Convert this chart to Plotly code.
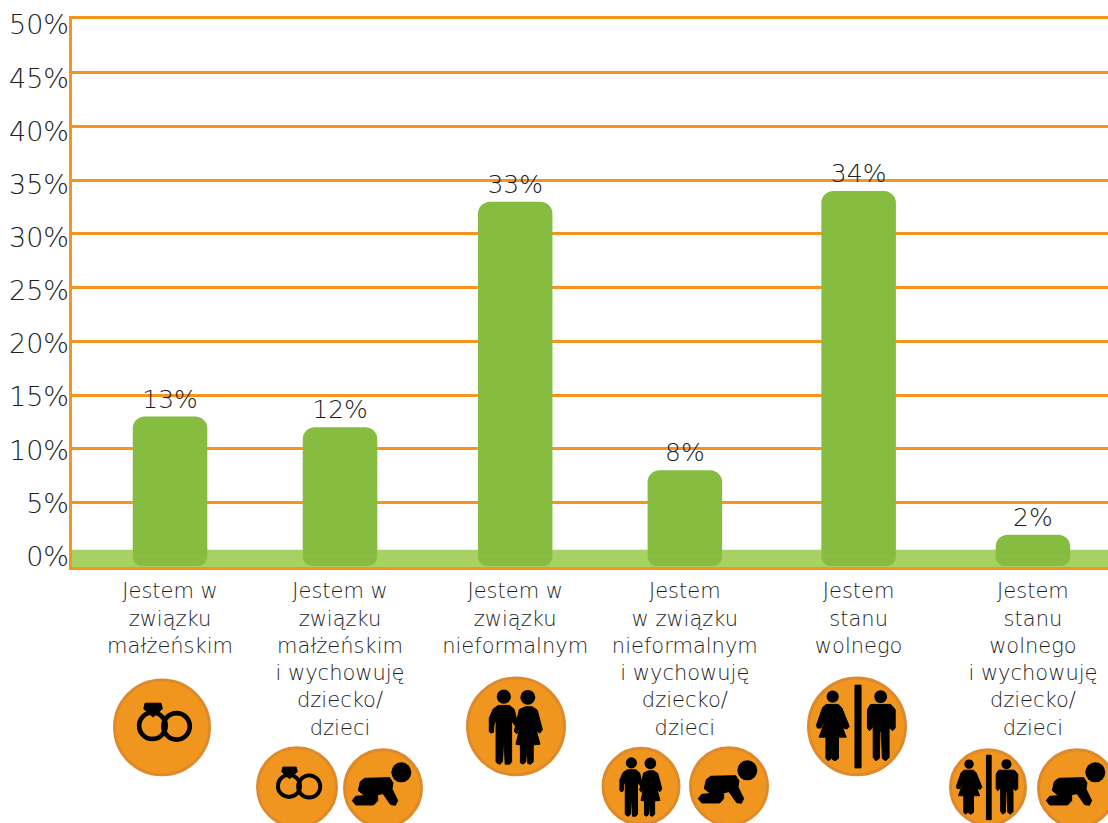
import plotly.graph_objects as go

# Survey results: share of respondents per family situation
categories = [
    "Jestem w<br>związku<br>małżeńskim",
    "Jestem w<br>związku<br>małżeńskim<br>i wychowuję<br>dziecko/<br>dzieci",
    "Jestem w<br>związku<br>nieformalnym",
    "Jestem<br>w związku<br>nieformalnym<br>i wychowuję<br>dziecko/<br>dzieci",
    "Jestem<br>stanu<br>wolnego",
    "Jestem<br>stanu<br>wolnego<br>i wychowuję<br>dziecko/<br>dzieci",
]
values = [13, 12, 33, 8, 34, 2]
y_ticks = [0, 5, 10, 15, 20, 25, 30, 35, 40, 45, 50]
grid_ticks = [5, 10, 15, 20, 25, 30, 35, 40, 45, 50]

ORANGE = "#F7941E"
GREEN = "#86BD41"
BAND = "#A8D163"
INK = "#1E1E1E"
BADGE = "#F0961E"
BADGE_EDGE = "#DE8A2C"
FONT = "DejaVu Sans"
WEIGHT = 200

W, H = 1108, 823
L, T, B = 72, 19, 567.5
slots = [0, 0.985, 2, 2.983, 3.99, 5]


def px(x):
    return (x - L) / (W - L)


def py(y):
    return (B - y) / (B - T)


# Pictogram outlines, drawn on a canvas where the badge has the given radius
RINGS = {
    "unit": (217, 203, 148),
    "discs": [],
    "rings": [(188, 198, 40), (261, 200, 40)],
    "ring_width": 14,
    "polys": [[(166, 130), (214, 130), (218, 147), (190, 172), (162, 147)]],
}
BABY = {
    "unit": (880, 388, 120),
    "discs": [(935, 340, 30)],
    "polys": [[(812, 368), (825, 358), (900, 356), (910, 372), (907, 390), (924, 425),
               (917, 439), (903, 437), (880, 404), (864, 407), (864, 425), (852, 438),
               (798, 438), (788, 425), (798, 412), (825, 410), (806, 395)]],
}
COUPLE = {
    "unit": (197, 200, 148),
    "discs": [(161, 112, 21), (232, 114, 22)],
    "polys": [
        [(118, 215), (118, 175), (130, 148), (145, 138), (178, 138), (192, 150), (200, 185),
         (200, 205), (188, 190), (184, 175), (184, 305), (178, 312), (165, 312), (161, 235),
         (157, 305), (150, 312), (143, 310), (138, 305), (138, 180), (132, 195), (130, 218),
         (122, 220)],
        [(207, 150), (225, 142), (245, 142), (260, 152), (275, 210), (268, 220), (260, 215),
         (250, 185), (268, 253), (248, 255), (248, 305), (240, 312), (232, 310), (230, 255),
         (226, 305), (218, 312), (210, 308), (210, 255), (197, 253), (212, 190), (200, 222),
         (192, 215)],
    ],
}
SEPARATED = {
    "unit": (200, 200, 148),
    "discs": [(128, 112, 18), (270, 112, 19)],
    "polys": [
        [(194, 78), (212, 78), (212, 323), (194, 323)],
        [(108, 135), (145, 135), (155, 145), (177, 200), (170, 208), (160, 205), (145, 170),
         (168, 232), (145, 232), (145, 295), (135, 302), (127, 298), (126, 232), (124, 295),
         (115, 302), (108, 295), (108, 232), (88, 232), (110, 170), (93, 205), (83, 205),
         (80, 197), (98, 145)],
        [(240, 135), (300, 135), (313, 150), (313, 205), (305, 213), (297, 205), (295, 165),
         (295, 292), (285, 302), (275, 295), (272, 215), (268, 215), (266, 295), (256, 302),
         (248, 292), (248, 165), (245, 205), (237, 213), (231, 205), (231, 150)],
    ],
}


def circle(cx, cy, r, **kw):
    return dict(type="circle", xref="paper", yref="paper", layer="above",
                x0=px(cx - r), x1=px(cx + r), y0=py(cy + r), y1=py(cy - r), **kw)


def badge(glyph, cx, cy, r):
    ux, uy, ur = glyph["unit"]
    k = r / ur
    out = [circle(cx, cy, r - 1.5, fillcolor=BADGE, line=dict(color=BADGE_EDGE, width=3))]
    for gx, gy, gr in glyph.get("rings", []):
        out.append(circle(cx + (gx - ux) * k, cy + (gy - uy) * k, gr * k,
                          line=dict(color="black", width=glyph["ring_width"] * k)))
    for gx, gy, gr in glyph["discs"]:
        out.append(circle(cx + (gx - ux) * k, cy + (gy - uy) * k, gr * k,
                          fillcolor="black", line=dict(width=0)))
    for poly in glyph["polys"]:
        pts = [f"{px(cx + (a - ux) * k):.5f},{py(cy + (b - uy) * k):.5f}" for a, b in poly]
        out.append(dict(type="path", xref="paper", yref="paper", layer="above",
                        path="M" + " L".join(pts) + " Z", fillcolor="black",
                        line=dict(color="black", width=1)))
    return out


badges = [
    (RINGS, 162, 728, 49), (RINGS, 297, 788, 41), (BABY, 383, 789, 40),
    (COUPLE, 516, 727, 50), (COUPLE, 641, 787, 39.5), (BABY, 729, 787, 40),
    (SEPARATED, 857, 727, 50), (SEPARATED, 988, 788, 39), (BABY, 1077, 789, 40),
]

shapes = [dict(type="rect", xref="paper", yref="y", layer="between", x0=0, x1=1,
               y0=-1, y1=0.6, fillcolor=BAND, line=dict(width=0))]
for item in badges:
    shapes += badge(*item)

fig = go.Figure()
# Bar bodies rise from zero; the short feet below zero round off the lower corners
fig.add_trace(go.Bar(
    x=slots, y=values, width=0.432, marker=dict(color=GREEN, cornerradius=12, line=dict(width=0)),
    text=[f"{v}%" for v in values], textposition="outside", cliponaxis=False,
    textfont=dict(family=FONT, size=25, color=INK, weight=WEIGHT),
    hoverinfo="skip",
))
fig.add_trace(go.Bar(
    x=slots, y=[-0.9] * len(values), width=0.432,
    marker=dict(color=GREEN, cornerradius=10, line=dict(width=0)), hoverinfo="skip",
))
# Holds the second scale that carries the percentage labels
fig.add_trace(go.Scatter(x=[0], y=[0], yaxis="y2", mode="markers",
                         marker=dict(opacity=0), hoverinfo="skip"))

fig.update_layout(
    width=W, height=H, autosize=False, showlegend=False, barmode="overlay",
    margin=dict(l=L, r=0, t=T, b=H - B, pad=0),
    paper_bgcolor="white", plot_bgcolor="white",
    shapes=shapes,
    xaxis=dict(
        range=[-0.568, 5.435], tickmode="array", tickvals=slots, ticktext=categories,
        showgrid=False, zeroline=False, showline=True, mirror=True,
        linecolor=ORANGE, linewidth=3, ticks="", ticklabelstandoff=3,
        tickfont=dict(family=FONT, size=21, color=INK, weight=WEIGHT), tickangle=0,
    ),
    yaxis=dict(
        range=[-1, 50], tickmode="array", tickvals=grid_ticks, showticklabels=False,
        showgrid=True, gridcolor=ORANGE, gridwidth=2.5, zeroline=False,
        showline=True, linecolor=ORANGE, linewidth=3, ticks="",
    ),
    yaxis2=dict(
        overlaying="y", side="left", range=[-0.99, 50.56], tickmode="array",
        tickvals=y_ticks, ticktext=[f"{v}%" for v in y_ticks], showgrid=False,
        zeroline=False, showline=False, ticks="", ticklabelstandoff=2,
        tickfont=dict(family=FONT, size=27, color=INK, weight=WEIGHT),
    ),
)

fig.write_html("out.html")
